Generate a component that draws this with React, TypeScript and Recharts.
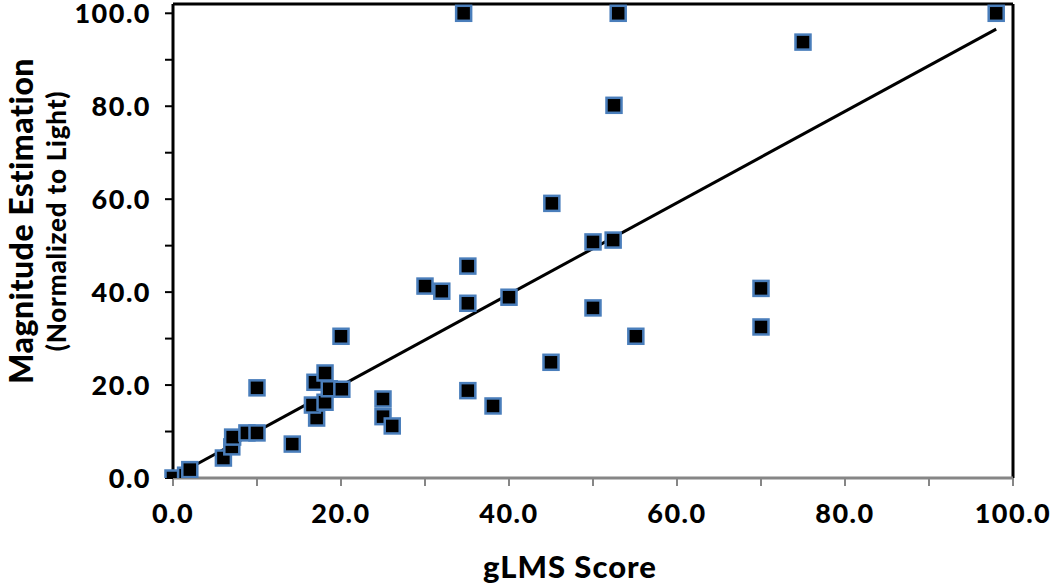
import { ScatterChart, Scatter, XAxis, YAxis, ReferenceLine, Label } from "recharts";

// gLMS score vs. magnitude estimation (normalized to light)
const gLMS = [
  0, 1.5, 2, 6, 7, 7.1, 8.8, 10, 10, 14.2,
  17.1, 16.6, 18.1, 16.9, 18.1, 18.6, 20.1, 20, 25, 25,
  26.1, 30, 32, 35.1, 35.1, 35.1, 38.1, 40, 45, 45.1,
  50, 50, 52.4, 55.1, 52.5, 34.6, 53, 70, 70, 75, 98,
];
const magnitude = [
  0, 0.6, 1.8, 4.3, 6.7, 8.8, 9.7, 9.7, 19.4, 7.3,
  12.9, 15.7, 16.3, 20.6, 22.6, 19.2, 19.1, 30.5, 17, 13.2,
  11.2, 41.3, 40.2, 45.6, 37.6, 18.8, 15.5, 38.9, 24.9, 59.1,
  50.8, 36.6, 51.2, 30.5, 80.2, 100, 100, 40.8, 32.5, 93.8, 100,
];

// linear trend line end points
const trendX = [0, 98];
const trendY = [0.2, 96.6];

const xTicks = [0, 10, 20, 30, 40, 50, 60, 70, 80, 90, 100];
const yTicks = [0, 10, 20, 30, 40, 50, 60, 70, 80, 90, 100];

const FONT = "Lato, 'Open Sans', sans-serif";

const points = gLMS.map((x, i) => ({ x, y: magnitude[i] }));
const trend = trendX.map((x, i) => ({ x, y: trendY[i] }));

const fmt = (v: number) => (v % 20 === 0 ? v.toFixed(1) : "");

const Marker = (props: any) => {
  const { cx, cy } = props;
  if (cx == null || cy == null) return null;
  return (
    <rect x={cx - 7.5} y={cy - 7.5} width={15} height={15} fill="#000" stroke="#4a7ebb" strokeWidth={2.5} />
  );
};

const YTitle = () => (
  <g fontFamily={FONT} fontWeight="900" fill="#000">
    <text x={20} y={221} transform="rotate(-90 20 221)" textAnchor="middle" dominantBaseline="central" fontSize={32} letterSpacing={0.5}>
      Magnitude Estimation
    </text>
    <text x={56} y={221} transform="rotate(-90 56 221)" textAnchor="middle" dominantBaseline="central" fontSize={26} letterSpacing={0.8}>
      (Normalized to Light)
    </text>
  </g>
);

const XTitle = () => (
  <text x={570} y={578} textAnchor="middle" fontFamily={FONT} fontWeight="900" fontSize={31} letterSpacing={1} fill="#000">
    gLMS Score
  </text>
);

const tickStyle = { fill: "#000", fontSize: 27, fontWeight: 900, fontFamily: FONT, letterSpacing: 1.5 };

export default function App() {
  return (
    <div style={{ position: "absolute", left: 0, top: 0, background: "#fff" }}>
      <ScatterChart width={1050} height={588} margin={{ top: 4, right: 37, bottom: 0, left: 0 }}>
        <XAxis
          type="number"
          dataKey="x"
          domain={[0, 100]}
          ticks={xTicks}
          tickFormatter={fmt}
          interval={0}
          axisLine={{ stroke: "#868686", strokeWidth: 3 }}
          tickLine={{ stroke: "#868686", strokeWidth: 2 }}
          tickSize={8}
          tickMargin={18}
          tick={tickStyle}
          height={110}
        >
          <Label content={<XTitle />} />
        </XAxis>
        <YAxis
          type="number"
          dataKey="y"
          domain={[0, 102]}
          allowDataOverflow
          ticks={yTicks}
          tickFormatter={fmt}
          interval={0}
          axisLine={{ stroke: "#000", strokeWidth: 3 }}
          tickLine={{ stroke: "#000", strokeWidth: 2 }}
          tickSize={8}
          tickMargin={14}
          tick={tickStyle}
          width={173}
        >
          <Label content={<YTitle />} />
        </YAxis>
        <ReferenceLine y={102} stroke="#000" strokeWidth={3} />
        <ReferenceLine x={100} stroke="#000" strokeWidth={3} />
        <Scatter
          data={trend}
          line={{ stroke: "#000", strokeWidth: 3 }}
          lineType="joint"
          shape={() => null}
          isAnimationActive={false}
        />
        <Scatter data={points} shape={<Marker />} isAnimationActive={false} />
      </ScatterChart>
    </div>
  );
}
